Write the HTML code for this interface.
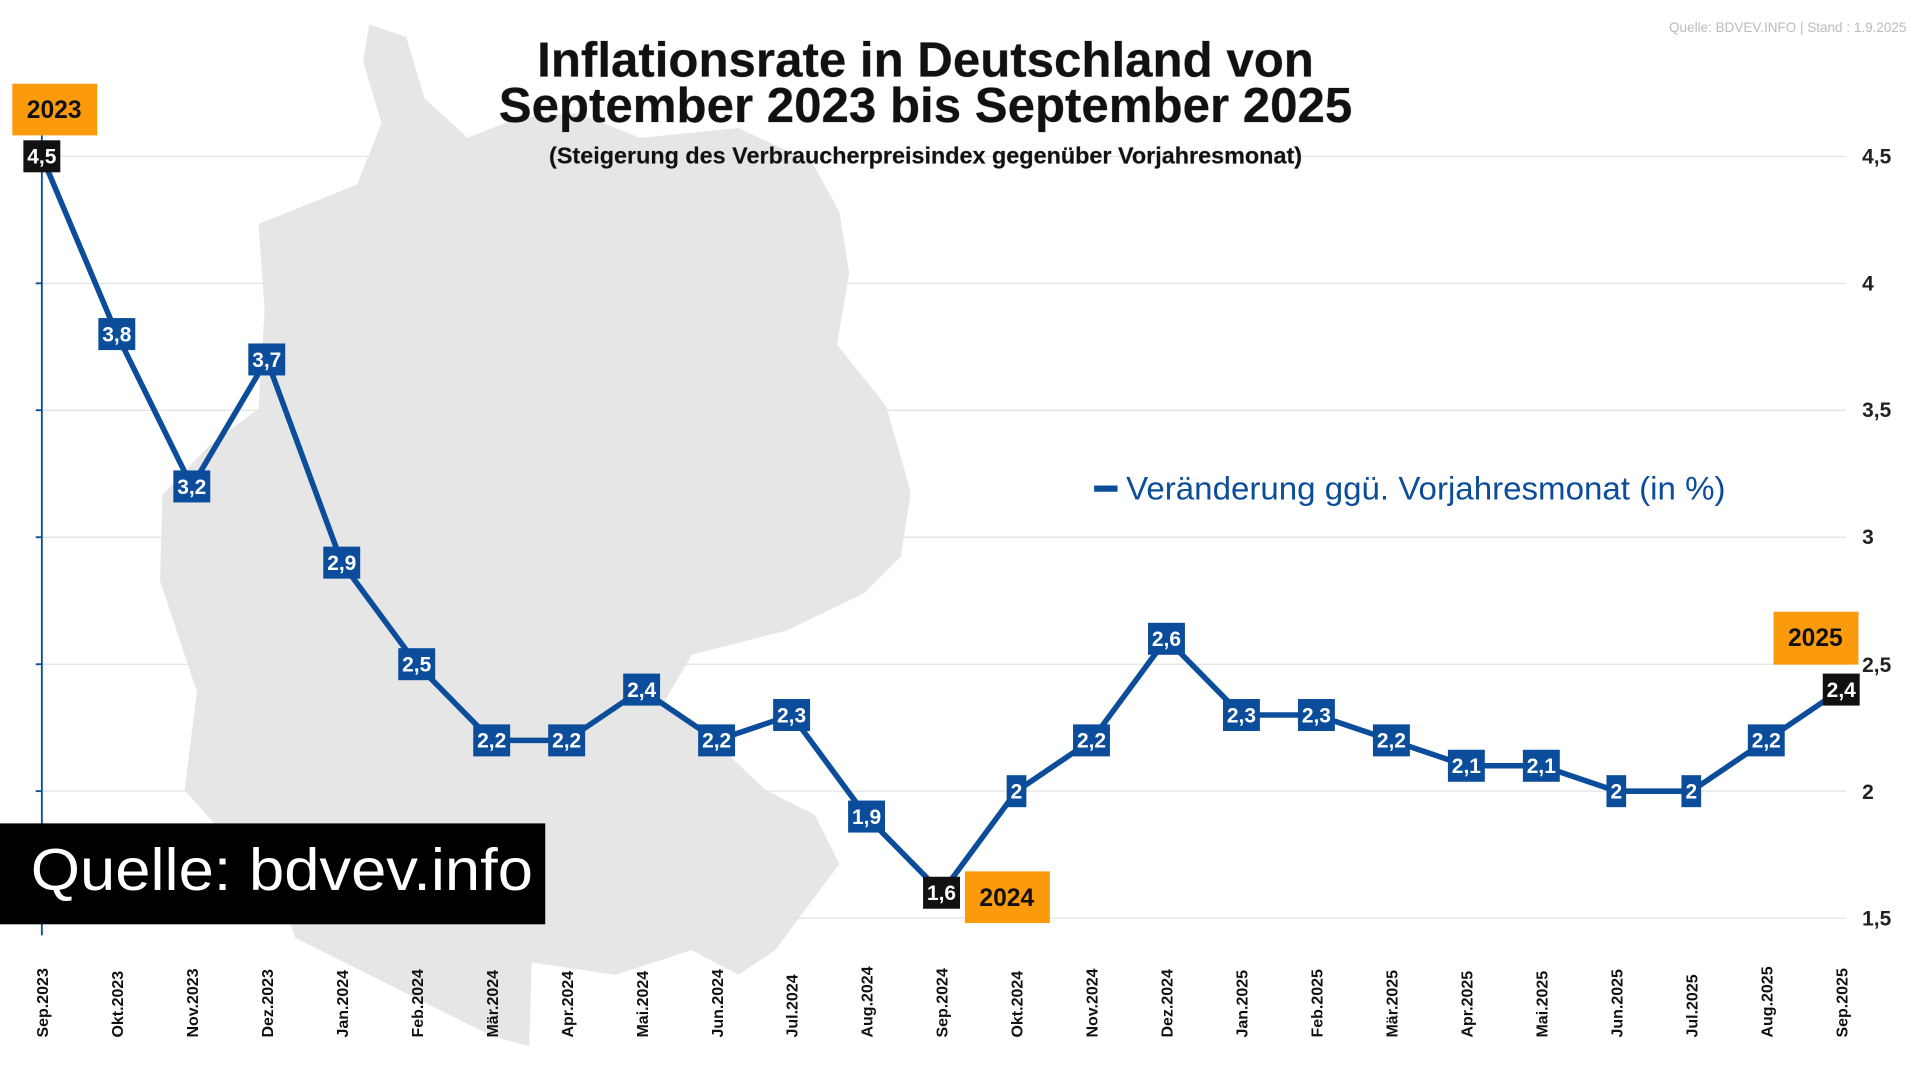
<!DOCTYPE html>
<html><head><meta charset="utf-8"><style>
html,body{margin:0;padding:0;background:#fff;width:1920px;height:1080px;overflow:hidden}
svg{display:block}
text{font-family:"Liberation Sans",sans-serif}
</style></head><body>
<svg width="1920" height="1080" viewBox="0 0 1560 877.5" xmlns="http://www.w3.org/2000/svg">
<rect width="1560" height="878" fill="#fff"/>
<path fill="#e6e6e6" d="M300,20 L330,30 L345,80 L380,112 L420,96 L470,92 L520,112 L600,104 L660,132 L682,172 L690,222 L680,280 L720,330 L740,400 L732,452 L702,482 L640,512 L562,532 L540,570 L580,602 L622,642 L662,662 L682,702 L652,742 L630,772 L600,792 L562,772 L500,792 L432,782 L430,850 L400,842 L300,792 L240,762 L230,732 L150,642 L160,562 L130,472 L132,402 L170,362 L210,332 L215,252 L210,182 L240,170 L290,150 L310,100 L295,50 Z"/>
<g stroke="#e3e3e3" stroke-width="1">
<line x1="34" x2="1500" y1="127" y2="127"/><line x1="34" x2="1500" y1="230.2" y2="230.2"/>
<line x1="34" x2="1500" y1="333.3" y2="333.3"/><line x1="34" x2="1500" y1="436.5" y2="436.5"/>
<line x1="34" x2="1500" y1="539.7" y2="539.7"/><line x1="34" x2="1500" y1="642.8" y2="642.8"/>
<line x1="34" x2="1500" y1="746" y2="746"/>
</g>
<g stroke="#0b4d9a" stroke-width="1.5"><line x1="34" x2="34" y1="110" y2="760"/>
<line x1="29" x2="34" y1="230.2" y2="230.2"/><line x1="29" x2="34" y1="333.3" y2="333.3"/><line x1="29" x2="34" y1="436.5" y2="436.5"/><line x1="29" x2="34" y1="539.7" y2="539.7"/><line x1="29" x2="34" y1="642.8" y2="642.8"/></g>
<g font-size="17" font-weight="bold" fill="#222"><text x="1513" y="133">4,5</text><text x="1513" y="236">4</text><text x="1513" y="339">3,5</text><text x="1513" y="442">3</text><text x="1513" y="546">2,5</text><text x="1513" y="649">2</text><text x="1513" y="752">1,5</text></g>
<text x="1549" y="26" font-size="11" fill="#bbb" text-anchor="end">Quelle: BDVEV.INFO | Stand : 1.9.2025</text>
<g text-anchor="middle" font-weight="bold" fill="#111" style="paint-order:stroke" stroke="#bbb" stroke-width="0.6">
<text x="752" y="62" font-size="40">Inflationsrate in Deutschland von</text>
<text x="752" y="99" font-size="40">September 2023 bis September 2025</text>
<text x="752" y="133" font-size="19">(Steigerung des Verbraucherpreisindex gegenüber Vorjahresmonat)</text></g>
<polyline fill="none" stroke="#0b4d9a" stroke-width="4.5" stroke-linejoin="round" id="ln" points=""/>
<g id="lb"></g>
<g font-size="13" font-weight="bold" fill="#111" id="xl"></g>
<line x1="889" x2="908" y1="397" y2="397" stroke="#0b4d9a" stroke-width="5"/>
<text x="915" y="406" font-size="26" fill="#0b4d9a" textLength="487" lengthAdjust="spacingAndGlyphs">Veränderung ggü. Vorjahresmonat (in %)</text>
<rect x="0" y="669" width="443" height="82" fill="#000"/>
<text x="25" y="723" font-size="48" fill="#fff" textLength="408" lengthAdjust="spacingAndGlyphs">Quelle: bdvev.info</text>
<g font-size="20" font-weight="bold" fill="#111" text-anchor="middle">
<rect x="10" y="68" width="69" height="42" fill="#fb9a0b"/><text x="44" y="96">2023</text>
<rect x="784" y="708" width="69" height="42" fill="#fb9a0b"/><text x="818" y="736">2024</text>
<rect x="1441" y="497" width="69" height="43" fill="#fb9a0b"/><text x="1475" y="525">2025</text></g>
</svg>
<script>
var v=[4.5,3.8,3.2,3.7,2.9,2.5,2.2,2.2,2.4,2.2,2.3,1.9,1.6,2,2.2,2.6,2.3,2.3,2.2,2.1,2.1,2,2,2.2,2.4];
var m=["Sep.2023","Okt.2023","Nov.2023","Dez.2023","Jan.2024","Feb.2024","Mär.2024","Apr.2024","Mai.2024","Jun.2024","Jul.2024","Aug.2024","Sep.2024","Okt.2024","Nov.2024","Dez.2024","Jan.2025","Feb.2025","Mär.2025","Apr.2025","Mai.2025","Jun.2025","Jul.2025","Aug.2025","Sep.2025"];
var ns="http://www.w3.org/2000/svg",pts=[],lb=document.getElementById("lb"),xl=document.getElementById("xl");
v.forEach(function(d,i){var x=34+i*60.917,y=127+(4.5-d)*206.33;pts.push(x+","+y);
var s=String(d).replace(".",","),w=s.length>1?30:16;
var r=document.createElementNS(ns,"rect");r.setAttribute("x",x-w/2);r.setAttribute("y",y-13);r.setAttribute("width",w);r.setAttribute("height",26);
r.setAttribute("fill",(i==0||i==12||i==24)?"#111":"#0b4d9a");lb.appendChild(r);
var t=document.createElementNS(ns,"text");t.setAttribute("x",x);t.setAttribute("y",y+6);t.setAttribute("text-anchor","middle");t.setAttribute("font-size","17");t.setAttribute("font-weight","bold");t.setAttribute("fill","#fff");t.textContent=s;lb.appendChild(t);
var u=document.createElementNS(ns,"text");u.setAttribute("transform","translate("+(x+5)+",843) rotate(-90)");u.textContent=m[i];xl.appendChild(u);});
document.getElementById("ln").setAttribute("points",pts.join(" "));
</script>
</body></html>
